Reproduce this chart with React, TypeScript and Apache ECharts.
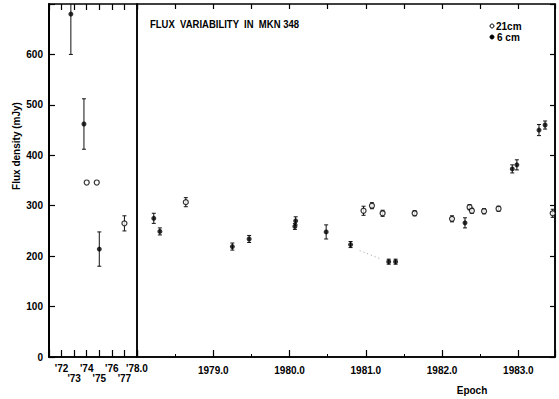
import React, { useEffect, useRef } from "react";
import * as echarts from "echarts";

const FONT = "'Liberation Sans Narrow', 'Liberation Sans', Arial, sans-serif";

// Early epochs (left panel, years 1971-1978)
const earlyYears6 = [1972.74, 1973.78, 1975.0];
const earlyFlux6 = [680, 462, 214];
const earlyErr6 = [80, 50, 34];
const earlyYears21 = [1974.0, 1974.8, 1977.0];
const earlyFlux21 = [346, 346, 265];
const earlyErr21 = [0, 0, 15];

// Later epochs (right panel, 1978.0-1983.5)
const epochs6 = [1978.22, 1978.3, 1979.25, 1979.47, 1980.08, 1980.07, 1980.48, 1980.8, 1981.3, 1981.39, 1982.3, 1982.92, 1982.98, 1983.27, 1983.35];
const flux6 = [275, 249, 219, 234, 270, 259, 248, 223, 189, 189, 266, 373, 381, 450, 460];
const err6 = [10, 7, 7, 7, 8, 6, 14, 6, 5, 5, 10, 8, 10, 11, 8];
const epochs21 = [1978.64, 1980.97, 1981.08, 1981.22, 1981.64, 1982.13, 1982.36, 1982.39, 1982.55, 1982.74, 1983.45];
const flux21 = [307, 290, 300, 285, 285, 274, 297, 290, 289, 294, 285];
const err21 = [9, 9, 6, 6, 5, 6, 5, 5, 5, 5, 8];

// faint dotted connector
const dotX = [1980.92, 1981.2];
const dotY = [211, 194];

const earlyTickYears = [1972, 1973, 1974, 1975, 1976, 1977, 1978];
const earlyTickLabels = ["'72", "'73", "'74", "'75", "'76", "'77", "'78.0"];

const yTicks = [0, 100, 200, 300, 400, 500, 600];

const errRender = (params: any, api: any) => {
  const x = api.value(0);
  const y = api.value(1);
  const e = api.value(2);
  if (!e) return null;
  const hi = api.coord([x, y + e]);
  const lo = api.coord([x, y - e]);
  const w = 2;
  const style = { stroke: "#111", lineWidth: 1 };
  return {
    type: "group",
    children: [
      { type: "line", shape: { x1: hi[0], y1: hi[1], x2: lo[0], y2: lo[1] }, style },
      { type: "line", shape: { x1: hi[0] - w, y1: hi[1], x2: hi[0] + w, y2: hi[1] }, style },
      { type: "line", shape: { x1: lo[0] - w, y1: lo[1], x2: lo[0] + w, y2: lo[1] }, style },
    ],
  };
};

const zip3 = (a: number[], b: number[], c: number[]) => a.map((v, i) => [v, b[i], c[i]]);
const zip2 = (a: number[], b: number[]) => a.map((v, i) => [v, b[i]]);

const earlyLabel = (parity: number) => (v: number) => {
  const r = Math.round(v);
  if (Math.abs(v - r) > 1e-6) return "";
  const i = earlyTickYears.indexOf(r);
  if (i < 0 || r % 2 !== parity) return "";
  return earlyTickLabels[i];
};

export default function App() {
  const ref = useRef<HTMLDivElement>(null);
  useEffect(() => {
    if (!ref.current) return;
    const chart = echarts.init(ref.current, undefined, { renderer: "svg" });
    const labelStyle = { color: "#000", fontFamily: FONT, fontWeight: "bold" as const, fontSize: 10 };
    const openItem = { color: "#fff", borderColor: "#000", borderWidth: 1.2 };
    const filledItem = { color: "#000" };
    chart.setOption({
      animation: false,
      backgroundColor: "#fff",
      grid: [
        { left: 49, right: 422, top: 4, bottom: 42, show: true, borderColor: "#000", borderWidth: 1.5, backgroundColor: "transparent" },
        { left: 137, right: 4, top: 4, bottom: 42, show: true, borderColor: "#000", borderWidth: 1.5, backgroundColor: "transparent" },
      ],
      xAxis: [
        {
          gridIndex: 0, type: "value", position: "bottom", min: 1971, max: 1978, interval: 1,
          axisLine: { show: true, lineStyle: { color: "#000", width: 1.5 } },
          axisTick: { show: true, inside: true, length: 7, lineStyle: { color: "#000", width: 1.2 } },
          splitLine: { show: false },
          axisLabel: { ...labelStyle, margin: 6, showMaxLabel: true, formatter: earlyLabel(0) },
        },
        {
          gridIndex: 0, type: "value", position: "top", min: 1971, max: 1978, interval: 1,
          axisLine: { show: false },
          axisTick: { show: true, inside: true, length: 6, lineStyle: { color: "#000", width: 1.2 } },
          splitLine: { show: false }, axisLabel: { show: false },
        },
        {
          gridIndex: 1, type: "value", position: "bottom", min: 1978, max: 1983.48, interval: 1,
          axisLine: { show: true, lineStyle: { color: "#000", width: 1.5 } },
          axisTick: { show: true, inside: true, length: 7, lineStyle: { color: "#000", width: 1.2 } },
          splitLine: { show: false },
          axisLabel: {
            ...labelStyle, margin: 8,
            formatter: (v: number) => {
              if (Math.abs(v - Math.round(v)) > 1e-6 || v < 1978.5) return "";
              return v.toFixed(1);
            },
          },
        },
        {
          gridIndex: 1, type: "value", position: "top", min: 1978, max: 1983.48, interval: 0.5,
          axisLine: { show: false },
          axisTick: { show: true, inside: true, length: 5, lineStyle: { color: "#000", width: 1.2 } },
          splitLine: { show: false }, axisLabel: { show: false },
        },
        {
          gridIndex: 1, type: "value", position: "bottom", min: 1978, max: 1983.48, interval: 0.5,
          axisLine: { show: false },
          axisTick: { show: true, inside: true, length: 3, lineStyle: { color: "#000", width: 1 } },
          splitLine: { show: false }, axisLabel: { show: false },
        },
        {
          gridIndex: 0, type: "value", position: "bottom", min: 1971, max: 1978, interval: 1,
          axisLine: { show: false }, axisTick: { show: false }, splitLine: { show: false },
          axisLabel: { ...labelStyle, margin: 16, formatter: earlyLabel(1) },
        },
      ],
      yAxis: [
        {
          gridIndex: 0, type: "value", position: "left", min: 0, max: 700, interval: 100,
          axisLine: { show: true, lineStyle: { color: "#000", width: 2 } },
          axisTick: { show: true, inside: true, length: 6, lineStyle: { color: "#000", width: 1.2 } },
          splitLine: { show: false },
          axisLabel: {
            ...labelStyle, margin: 6,
            formatter: (v: number) => (yTicks.indexOf(v) >= 0 ? String(v) : ""),
          },
        },
        {
          gridIndex: 1, type: "value", position: "right", min: 0, max: 700, interval: 100,
          axisLine: { show: true, lineStyle: { color: "#000", width: 1.5 } },
          axisTick: { show: true, inside: true, length: 5, lineStyle: { color: "#000", width: 1.2 } },
          splitLine: { show: false }, axisLabel: { show: false },
        },
      ],
      series: [
        {
          type: "custom", xAxisIndex: 0, yAxisIndex: 0, clip: true, renderItem: errRender,
          data: [...zip3(earlyYears6, earlyFlux6, earlyErr6), ...zip3(earlyYears21, earlyFlux21, earlyErr21)],
          z: 2,
        },
        {
          type: "custom", xAxisIndex: 2, yAxisIndex: 1, clip: true, renderItem: errRender,
          data: [...zip3(epochs6, flux6, err6), ...zip3(epochs21, flux21, err21)],
          z: 2,
        },
        {
          type: "line", xAxisIndex: 2, yAxisIndex: 1, data: zip2(dotX, dotY), symbol: "none",
          lineStyle: { color: "#999", width: 1, type: [1, 3] }, z: 1,
        },
        { type: "scatter", xAxisIndex: 0, yAxisIndex: 0, symbol: "circle", symbolSize: 5, itemStyle: filledItem, data: zip2(earlyYears6, earlyFlux6), z: 3 },
        { type: "scatter", xAxisIndex: 0, yAxisIndex: 0, symbol: "circle", symbolSize: 5, itemStyle: openItem, data: zip2(earlyYears21, earlyFlux21), z: 3 },
        { type: "scatter", xAxisIndex: 2, yAxisIndex: 1, symbol: "circle", symbolSize: 5, itemStyle: filledItem, data: zip2(epochs6, flux6), z: 3 },
        { type: "scatter", xAxisIndex: 2, yAxisIndex: 1, symbol: "circle", symbolSize: 5, itemStyle: openItem, data: zip2(epochs21, flux21), z: 3 },
      ],
      graphic: [
        {
          type: "text", x: 150, y: 24, scaleX: 0.95,
          style: { text: "FLUX  VARIABILITY  IN  MKN 348", fill: "#000", font: `bold 10px ${FONT}`, verticalAlign: "middle" },
        },
        { type: "circle", shape: { cx: 492, cy: 26, r: 2 }, style: { fill: "#fff", stroke: "#000", lineWidth: 1 } },
        { type: "circle", shape: { cx: 492, cy: 37, r: 2 }, style: { fill: "#000", stroke: "#000", lineWidth: 1 } },
        { type: "text", x: 496, y: 26, style: { text: "21cm", fill: "#000", font: `bold 10px ${FONT}`, verticalAlign: "middle", align: "left" } },
        { type: "text", x: 497, y: 37, style: { text: "6 cm", fill: "#000", font: `bold 10px ${FONT}`, verticalAlign: "middle", align: "left" } },
        {
          type: "text", x: 16, y: 146, rotation: Math.PI / 2,
          style: { text: "Flux density (mJy)", fill: "#000", font: `bold 10px ${FONT}`, align: "center", verticalAlign: "middle" },
        },
        { type: "text", x: 472, y: 390, style: { text: "Epoch", fill: "#000", font: `bold 10px ${FONT}`, align: "center", verticalAlign: "middle" } },
      ],
    });
    return () => chart.dispose();
  }, []);
  return <div ref={ref} style={{ position: "fixed", left: 0, top: 0, width: 559, height: 399, background: "#fff" }} />;
}
